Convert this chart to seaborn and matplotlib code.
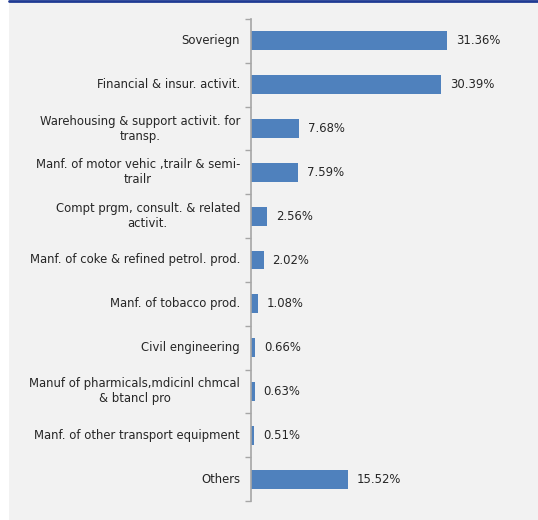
import matplotlib
matplotlib.use("Agg")
import matplotlib.pyplot as plt
import seaborn as sns
import pandas as pd
from matplotlib.patches import Rectangle
from matplotlib.lines import Line2D
from matplotlib.ticker import FixedLocator

categories = [
    "Soveriegn",
    "Financial & insur. activit.",
    "Warehousing & support activit. for\ntransp.",
    "Manf. of motor vehic ,trailr & semi-\ntrailr",
    "Compt prgm, consult. & related\nactivit.",
    "Manf. of coke & refined petrol. prod.",
    "Manf. of tobacco prod.",
    "Civil engineering",
    "Manuf of pharmicals,mdicinl chmcal\n& btancl pro",
    "Manf. of other transport equipment",
    "Others",
]
values = [31.36, 30.39, 7.68, 7.59, 2.56, 2.02, 1.08, 0.66, 0.63, 0.51, 15.52]
value_labels = ["31.36%", "30.39%", "7.68%", "7.59%", "2.56%", "2.02%",
                "1.08%", "0.66%", "0.63%", "0.51%", "15.52%"]

df = pd.DataFrame({"category": categories, "value": values})

sns.set_theme(style="white")
plt.rcParams["font.family"] = ["DejaVu Sans"]

W, H = 538, 520
fig = plt.figure(figsize=(W / 100, H / 100), dpi=100, facecolor="white")
fig.add_artist(Rectangle((9 / W, 0), 1 - 9 / W, 1, transform=fig.transFigure,
                         facecolor="#F2F2F2", edgecolor="none", zorder=-10))
fig.add_artist(Line2D([9 / W, 1], [1 - 1 / H, 1 - 1 / H], transform=fig.transFigure,
                      color="#1F3A93", linewidth=2))

ax = fig.add_axes([251 / W, 19 / H, (530 - 251) / W, (501 - 19) / H])
ax.set_facecolor("none")

sns.barplot(data=df, x="value", y="category", orient="h", color="#4F81BD",
            width=0.43, saturation=1, linewidth=0, ax=ax)

ax.set_xlim(0, 279 / 6.25)
ax.set_ylim(len(categories) - 0.5, -0.5)
ax.set_xlabel("")
ax.set_ylabel("")
ax.set_xticks([])

fs = 8.4
for i, (v, lab) in enumerate(zip(values, value_labels)):
    ax.text(v + 1.4, i, lab, va="center", ha="left", fontsize=fs, color="#262626")

ax.set_yticks(range(len(categories)), labels=categories, multialignment="center",
              fontsize=fs, color="#262626", va="center")
ax.tick_params(axis="y", which="major", length=0, pad=8)
ax.yaxis.set_minor_locator(FixedLocator([i - 0.5 for i in range(len(categories) + 1)]))
ax.tick_params(axis="y", which="minor", length=4, width=1, color="#A6A6A6", left=True)

for s in ["top", "right", "bottom"]:
    ax.spines[s].set_visible(False)
ax.spines["left"].set_color("#A6A6A6")
ax.spines["left"].set_linewidth(1.2)

fig.savefig("out.png", dpi=100, facecolor=fig.get_facecolor())
